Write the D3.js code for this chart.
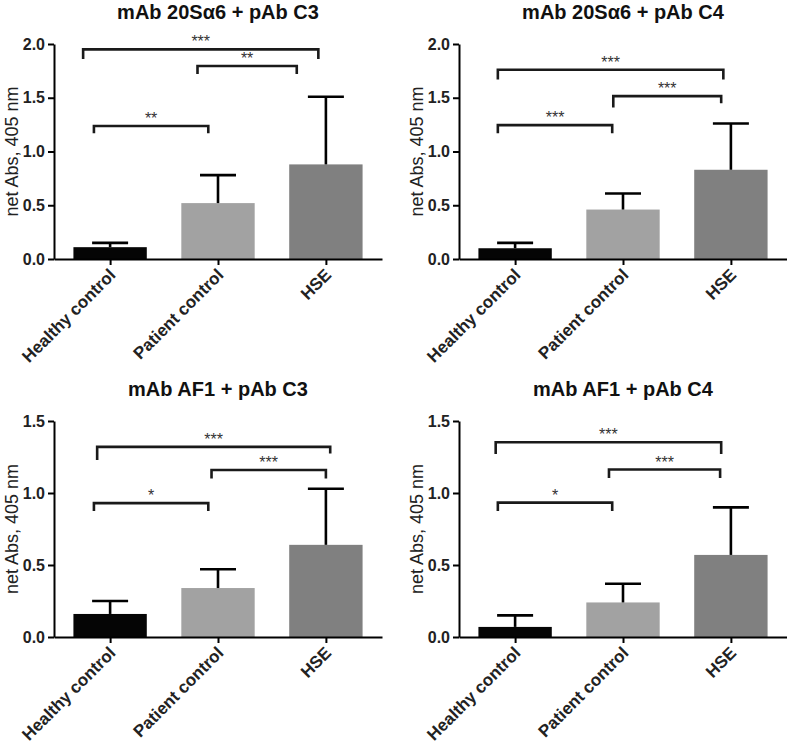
<!DOCTYPE html>
<html>
<head>
<meta charset="utf-8">
<script src="https://cdn.jsdelivr.net/npm/d3@7/dist/d3.min.js"></script>
<style>
  body { margin: 0; background: #fff; }
</style>
</head>
<body>
<script>
// groups on the x axis
var categories = ["Healthy control", "Patient control", "HSE"];

var titles = ["mAb 20S\u03b16 + pAb C3", "mAb 20S\u03b16 + pAb C4",
              "mAb AF1 + pAb C3", "mAb AF1 + pAb C4"];

// bar heights (mean) and upper error (SD), net Abs 405 nm
var mean_20S_C3 = [0.11, 0.52, 0.88],
    sd_20S_C3   = [0.04, 0.26, 0.63];
var mean_20S_C4 = [0.10, 0.46, 0.83],
    sd_20S_C4   = [0.05, 0.15, 0.43];
var mean_AF1_C3 = [0.16, 0.34, 0.64],
    sd_AF1_C3   = [0.09, 0.13, 0.39];
var mean_AF1_C4 = [0.07, 0.24, 0.57],
    sd_AF1_C4   = [0.08, 0.13, 0.33];

var ticks_top = [0, 0.5, 1.0, 1.5, 2.0],
    ticks_bottom = [0, 0.5, 1.0, 1.5];

// significance brackets: ends in category units, level and leg ends in data units
var sig_20S_C3 = [
  { from: -0.25, to: 1.93, level: 1.95, legs: [1.86, 1.86], label: "***" },
  { from: 0.81,  to: 1.73, level: 1.795, legs: [1.72, 1.72], label: "**" },
  { from: -0.15, to: 0.91, level: 1.237, legs: [1.17, 1.17], label: "**" }
];
var sig_20S_C4 = [
  { from: -0.16, to: 1.93, level: 1.76, legs: [1.67, 1.67], label: "***" },
  { from: 0.91,  to: 1.91, level: 1.515, legs: [1.41, 1.45], label: "***" },
  { from: -0.16, to: 0.90, level: 1.245, legs: [1.17, 1.17], label: "***" }
];
var sig_AF1_C3 = [
  { from: -0.12, to: 2.04, level: 1.32, legs: [1.23, 1.275], label: "***" },
  { from: 0.94,  to: 2.0,  level: 1.16, legs: [1.10, 1.10], label: "***" },
  { from: -0.15, to: 0.91, level: 0.93, legs: [0.875, 0.875], label: "*" }
];
var sig_AF1_C4 = [
  { from: -0.18, to: 1.91, level: 1.352, legs: [1.27, 1.27], label: "***" },
  { from: 0.87,  to: 1.90, level: 1.163, legs: [1.105, 1.105], label: "***" },
  { from: -0.16, to: 0.90, level: 0.933, legs: [0.875, 0.875], label: "*" }
];

var bar_colors = ["#050505", "#a2a2a2", "#808080"],
    font = "Arial, 'Liberation Sans', sans-serif",
    plot_w = 328;

var panels = [
  { title: titles[0], mean: mean_20S_C3, sd: sd_20S_C3, sig: sig_20S_C3, ticks: ticks_top,    left: 54,  top: 44,  bottom: 259, title_y: 19 },
  { title: titles[1], mean: mean_20S_C4, sd: sd_20S_C4, sig: sig_20S_C4, ticks: ticks_top,    left: 459, top: 44,  bottom: 259, title_y: 19 },
  { title: titles[2], mean: mean_AF1_C3, sd: sd_AF1_C3, sig: sig_AF1_C3, ticks: ticks_bottom, left: 54,  top: 421, bottom: 637, title_y: 396 },
  { title: titles[3], mean: mean_AF1_C4, sd: sd_AF1_C4, sig: sig_AF1_C4, ticks: ticks_bottom, left: 459, top: 421, bottom: 637, title_y: 396 }
];

var svg = d3.select("body").append("svg")
    .attr("width", 787)
    .attr("height", 744)
    .style("font-family", font);

function drawPanel(p) {
  var g = svg.append("g");

  var x = d3.scalePoint().domain(categories).range([p.left, p.left + plot_w]).padding(0.52),
      step = x.step(),
      xi = d3.scaleLinear().domain([0, 1]).range([x(categories[0]), x(categories[0]) + step]),
      y = d3.scaleLinear().domain([0, d3.max(p.ticks)]).range([p.bottom, p.top]),
      bw = step * 0.68,
      cap = 18;

  // bars
  g.selectAll("rect.bar").data(p.mean).join("rect")
    .attr("class", "bar")
    .attr("x", function(d, i) { return x(categories[i]) - bw / 2; })
    .attr("y", function(d) { return y(d); })
    .attr("width", bw)
    .attr("height", function(d) { return p.bottom - y(d); })
    .attr("fill", function(d, i) { return bar_colors[i]; });

  // upper error bars
  var err = g.selectAll("g.err").data(p.mean).join("g").attr("class", "err")
    .attr("stroke", "#000").attr("stroke-width", 2.6);
  err.append("line")
    .attr("x1", function(d, i) { return x(categories[i]); })
    .attr("x2", function(d, i) { return x(categories[i]); })
    .attr("y1", function(d) { return y(d); })
    .attr("y2", function(d, i) { return y(d + p.sd[i]); });
  err.append("line")
    .attr("x1", function(d, i) { return x(categories[i]) - cap; })
    .attr("x2", function(d, i) { return x(categories[i]) + cap; })
    .attr("y1", function(d, i) { return y(d + p.sd[i]); })
    .attr("y2", function(d, i) { return y(d + p.sd[i]); });

  // axes
  var ya = g.append("g")
    .attr("transform", "translate(" + p.left + ",0)")
    .call(d3.axisLeft(y).tickValues(p.ticks).tickFormat(d3.format(".1f")).tickSize(6).tickSizeOuter(0).tickPadding(3));
  ya.selectAll("text").attr("font-size", 16).attr("font-weight", "bold").attr("fill", "#222").style("font-family", font);

  var xa = g.append("g")
    .attr("transform", "translate(0," + p.bottom + ")")
    .call(d3.axisBottom(x).tickSize(6).tickSizeOuter(0));
  xa.selectAll("text")
    .attr("x", 0).attr("y", 0).attr("dy", 0)
    .attr("text-anchor", "end")
    .attr("transform", "translate(6,17) rotate(-45)")
    .attr("font-size", 17).attr("font-weight", "bold").attr("fill", "#222")
    .style("font-family", font);

  [ya, xa].forEach(function(a) {
    a.select(".domain").attr("stroke", "#000").attr("stroke-width", 2);
    a.selectAll(".tick line").attr("stroke", "#000").attr("stroke-width", 2);
  });

  // significance brackets
  var sig = g.selectAll("g.sig").data(p.sig).join("g").attr("class", "sig");
  sig.append("path")
    .attr("d", function(s) {
      return "M" + xi(s.from) + "," + y(s.legs[0]) +
             "V" + y(s.level) + "H" + xi(s.to) + "V" + y(s.legs[1]);
    })
    .attr("fill", "none").attr("stroke", "#1a1a1a").attr("stroke-width", 2.6);
  sig.append("text")
    .attr("x", function(s) { return xi((s.from + s.to) / 2); })
    .attr("y", function(s) { return y(s.level) - 2; })
    .attr("text-anchor", "middle")
    .attr("font-size", 16).attr("fill", "#333")
    .text(function(s) { return s.label; });

  // labels
  g.append("text")
    .attr("x", p.left + plot_w / 2).attr("y", p.title_y)
    .attr("text-anchor", "middle")
    .attr("font-size", 20).attr("font-weight", "bold").attr("fill", "#111")
    .text(p.title);

  g.append("text")
    .attr("transform", "translate(" + (p.left - 36) + "," + ((p.top + p.bottom) / 2) + ") rotate(-90)")
    .attr("text-anchor", "middle")
    .attr("font-size", 18).attr("fill", "#222")
    .text("net Abs, 405 nm");
}

panels.forEach(drawPanel);
</script>
</body>
</html>
